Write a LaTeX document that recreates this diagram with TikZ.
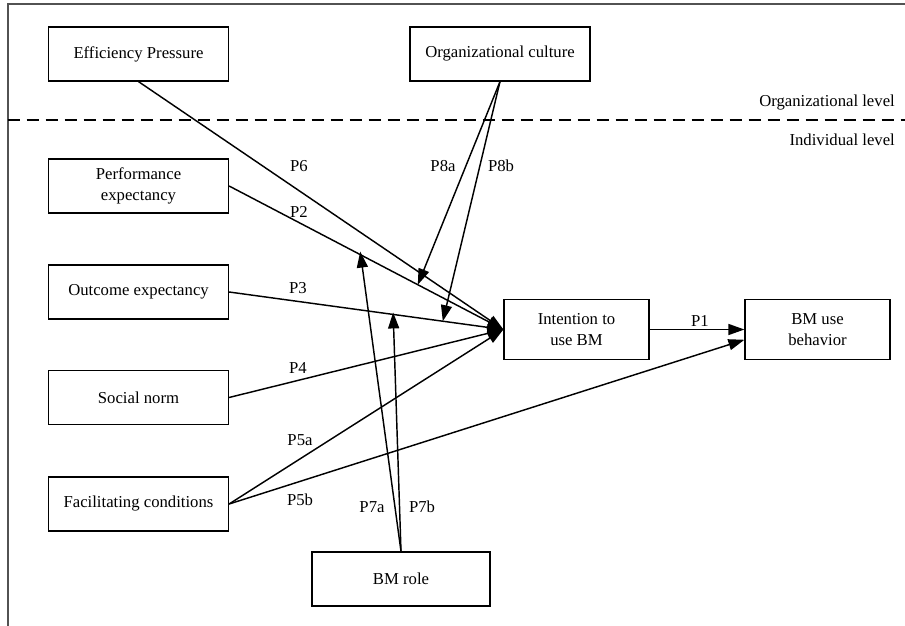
\documentclass[tikz,border=0pt]{standalone}
\usepackage{fontspec}
\setmainfont{Liberation Serif}
\usetikzlibrary{arrows.meta}
\begin{document}
\begin{tikzpicture}[x=1pt,y=-1pt,
  font=\fontsize{16.7}{20.5}\selectfont,
  box/.style={draw=black,line width=1.2pt,minimum width=180pt,minimum height=54pt,align=center,inner sep=2pt},
  sbox/.style={draw=black,line width=1.2pt,minimum width=145pt,minimum height=60pt,align=center,inner sep=2pt},
  conn/.style={line width=1.45pt,-{Triangle[length=16pt,width=11pt]}},
  lab/.style={inner sep=0pt},
  frameline/.style={line width=2pt,draw=black!68}]
\useasboundingbox (0,0) rectangle (905,626);
% frame
\coordinate (fTL) at (7.5,4.5);
\coordinate (fTR) at (905,4.5);
\coordinate (fBL) at (7.5,626);
\draw[frameline] (fTR) -- (fTL) -- (fBL);
% level separator
\coordinate (dL) at (7.5,120);
\coordinate (dR) at (905,120);
\draw[line width=1.9pt,dash pattern=on 12pt off 7pt] (dL) -- (dR);
\node[lab,anchor=east] (orglevel) at (895,103) {Organizational level};
\node[lab,anchor=east] (indlevel) at (895,140) {Individual level};
% boxes
\node[box] (eff) at (138.5,54) {Efficiency Pressure};
\node[box] (cult) at (500,54) {Organizational culture};
\node[box] (perf) at (138.5,186) {Performance\\expectancy};
\node[box] (outc) at (138.5,292) {Outcome expectancy};
\node[box] (soc) at (138.5,397.5) {Social norm};
\node[box] (fac) at (138.5,504) {Facilitating conditions};
\node[box,minimum width=178pt] (role) at (401,579) {BM role};
\node[sbox] (int) at (576.5,329.5) {Intention to\\use BM};
\node[sbox] (use) at (817.5,329.5) {BM use\\behavior};
% main paths
\draw[conn] (eff.south) -- (int.west);
\draw[conn] (perf.east) -- (int.west) coordinate[pos=0.478] (m7a) coordinate[pos=0.688] (m8a);
\draw[conn] (outc.east) -- (int.west) coordinate[pos=0.598] (m7b) coordinate[pos=0.779] (m8b);
\draw[conn] (soc.east) -- (int.west);
\draw[conn] (fac.east) -- (int.west);
\draw[conn] (fac.east) -- (use.188.7);
\draw[conn] (int.east) -- (use.west);
% moderators
\draw[conn] (cult.south) -- (m8a);
\draw[conn] (cult.south) -- (m8b);
\draw[conn] (role.north) -- ([yshift=3pt]m7a);
\draw[conn] (role.north) -- ([yshift=2pt]m7b);
% labels
\node[lab] (p6) at (299,166) {P6};
\node[lab] (p2) at (299,212) {P2};
\node[lab] (p3) at (298,288) {P3};
\node[lab] (p4) at (298,368) {P4};
\node[lab] (p5a) at (300,440) {P5a};
\node[lab] (p5b) at (300,500) {P5b};
\node[lab] (p7a) at (372,507) {P7a};
\node[lab] (p7b) at (422,507) {P7b};
\node[lab] (p8a) at (443,166) {P8a};
\node[lab] (p8b) at (501,166) {P8b};
\node[lab] (p1) at (700,321) {P1};
\end{tikzpicture}
\end{document}
